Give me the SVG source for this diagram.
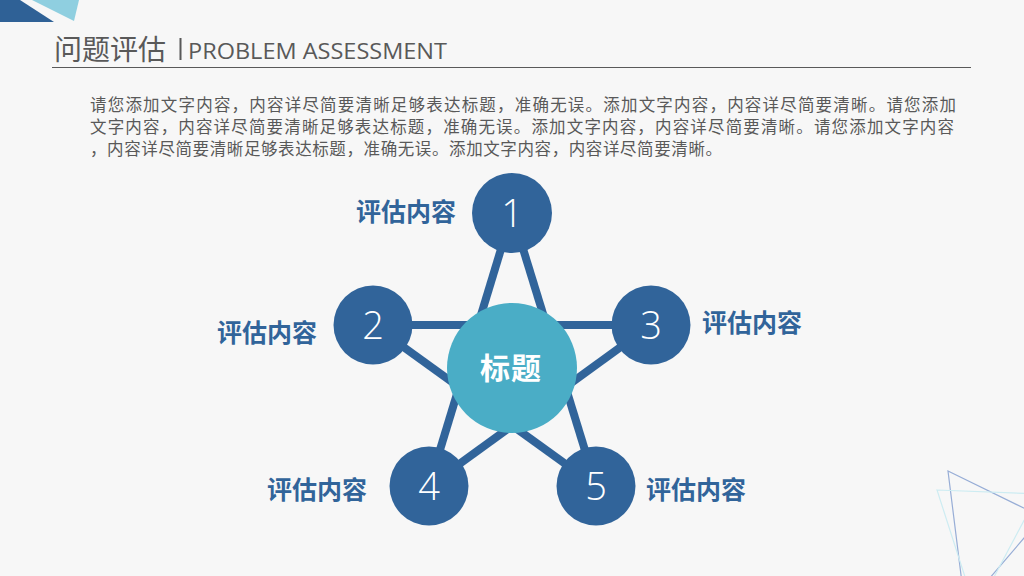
<svg xmlns="http://www.w3.org/2000/svg" width="1024" height="576" viewBox="0 0 1024 576">
<style>
.cn{font-family:"Noto Sans CJK SC","Noto Sans",sans-serif}
.body{font-size:16.5px;fill:#595959}
.lbl{font-size:25px;font-weight:bold;fill:#31649a}
.num{font-family:"Open Sans","DejaVu Sans",sans-serif;font-weight:300;font-size:38px;fill:#ffffff;text-anchor:middle}
.node{fill:#31649a}
.edge{stroke:#31649a;stroke-width:8;fill:none}
</style>
<rect width="1024" height="576" fill="#f7f7f7"/>
<g id="decor">
<polygon points="0,0 20,0 54,22 0,22" fill="#2f6196"/>
<polygon points="32,0 79,0 74,21" fill="#8fcfe0"/>
<polygon points="948,471 1042,517 965,607" fill="none" stroke="#97add6" stroke-width="1.2"/>
<polygon points="937,490 1038,494 976,611" fill="none" stroke="#cdecf2" stroke-width="1.2"/>
</g>
<g id="title">
<text class="cn" x="54" y="60" font-size="28" fill="#595959">问题评估</text>
<rect x="179.5" y="38" width="2" height="22" fill="#595959"/>
<text x="188" y="59" font-family="Open Sans, Liberation Sans, sans-serif" font-size="22" fill="#595959" textLength="259" lengthAdjust="spacingAndGlyphs">PROBLEM ASSESSMENT</text>
<line x1="52" y1="67.5" x2="971" y2="67.5" stroke="#595959" stroke-width="1.2"/>
</g>
<g id="body-text" class="cn body">
<text x="90" y="111" textLength="866" lengthAdjust="spacing">请您添加文字内容，内容详尽简要清晰足够表达标题，准确无误。添加文字内容，内容详尽简要清晰。请您添加</text>
<text x="90" y="133" textLength="864" lengthAdjust="spacing">文字内容，内容详尽简要清晰足够表达标题，准确无误。添加文字内容，内容详尽简要清晰。请您添加文字内容</text>
<text x="90" y="155" textLength="632" lengthAdjust="spacing">，内容详尽简要清晰足够表达标题，准确无误。添加文字内容，内容详尽简要清晰。</text>
</g>
<g id="connectors">
<line class="edge" x1="512" y1="213" x2="429" y2="486"/>
<line class="edge" x1="512" y1="213" x2="596" y2="486"/>
<line class="edge" x1="373" y1="325" x2="651" y2="325"/>
<line class="edge" x1="373" y1="325" x2="596" y2="486"/>
<line class="edge" x1="651" y1="325" x2="429" y2="486"/>
</g>
<g id="center">
<circle cx="512" cy="368" r="65" fill="#4aadc6"/>
<text class="cn" x="511" y="379" font-size="30" font-weight="bold" fill="#ffffff" text-anchor="middle" letter-spacing="1">标题</text>
</g>
<g id="node1">
<circle class="node" cx="512" cy="213" r="40"/>
<text class="num" x="512" y="227">1</text>
<text class="cn lbl" x="356" y="221">评估内容</text>
</g>
<g id="node2">
<circle class="node" cx="373" cy="325" r="39.5"/>
<text class="num" x="373" y="339">2</text>
<text class="cn lbl" x="217" y="342">评估内容</text>
</g>
<g id="node3">
<circle class="node" cx="651" cy="325" r="39.5"/>
<text class="num" x="651" y="339">3</text>
<text class="cn lbl" x="702" y="332">评估内容</text>
</g>
<g id="node4">
<circle class="node" cx="429" cy="486" r="39.5"/>
<text class="num" x="429" y="500">4</text>
<text class="cn lbl" x="267" y="499">评估内容</text>
</g>
<g id="node5">
<circle class="node" cx="596" cy="486" r="39.5"/>
<text class="num" x="596" y="500">5</text>
<text class="cn lbl" x="646" y="499">评估内容</text>
</g>
</svg>
